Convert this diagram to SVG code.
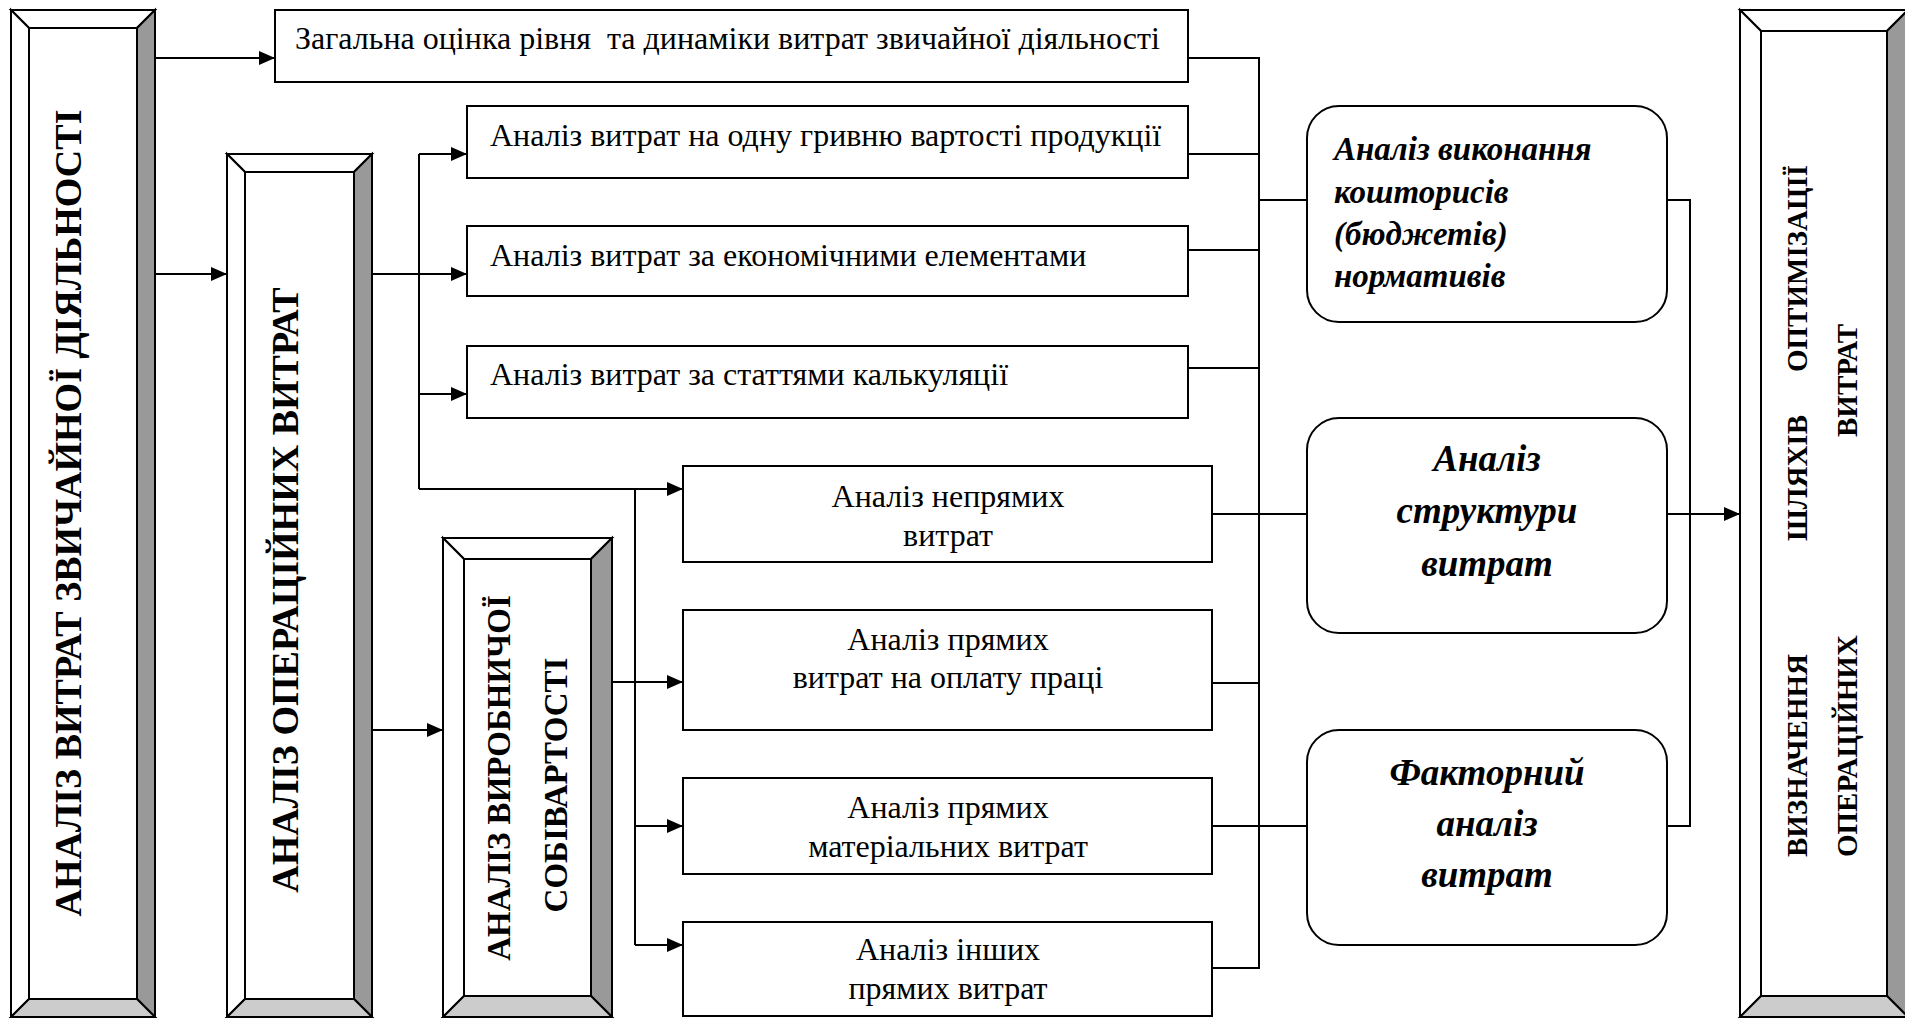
<svg xmlns="http://www.w3.org/2000/svg" width="1905" height="1018" viewBox="0 0 1905 1018">
  <style>
    .box { fill: #ffffff; stroke: #000; stroke-width: 2; }
    .bev-light { fill: #ffffff; stroke: #000; stroke-width: 2; }
    .bev-dark { fill: #999999; stroke: #000; stroke-width: 2; }
    .bev-mid { fill: #cccccc; stroke: #000; stroke-width: 2; }
    .conn { fill: none; stroke: #000; stroke-width: 2; }
    .arrow { marker-end: url(#arr); }
    .t { font-family: 'Liberation Serif', serif; font-size: 32px; fill: #000; }
    .tc { text-anchor: middle; }
    .vb { font-family: 'Liberation Serif', serif; font-weight: bold; fill: #000; }
    .bi { font-family: 'Liberation Serif', serif; font-weight: bold; font-style: italic; font-size: 37px; fill: #000; }
    .bi-s { font-size: 33px; }
  </style>
  <defs>
    <marker id="arr" markerUnits="userSpaceOnUse" markerWidth="16" markerHeight="14" viewBox="0 0 16 14" refX="16" refY="7" orient="auto">
      <path d="M0,0 L16,7 L0,14 z" fill="#000"/>
    </marker>
  </defs>

  <rect x="0" y="0" width="1905" height="1018" fill="#ffffff"/>

  <!-- Bevelled frame: main analysis column -->
  <g id="node-main">
    <rect class="box" x="11" y="10" width="144" height="1007"/>
    <polygon class="bev-light" points="11,10 155,10 137,28 29,28"/>
    <polygon class="bev-light" points="11,10 29,28 29,999 11,1017"/>
    <polygon class="bev-dark" points="155,10 155,1017 137,999 137,28"/>
    <polygon class="bev-mid" points="11,1017 155,1017 137,999 29,999"/>
    <rect class="box" x="29" y="28" width="108" height="971"/>
    <text class="vb tc" font-size="38" transform="translate(81,513) rotate(-90)">АНАЛІЗ ВИТРАТ ЗВИЧАЙНОЇ ДІЯЛЬНОСТІ</text>
  </g>

  <!-- Bevelled frame: operating costs -->
  <g id="node-operating">
    <rect class="box" x="227" y="154" width="145" height="863"/>
    <polygon class="bev-light" points="227,154 372,154 354,172 245,172"/>
    <polygon class="bev-light" points="227,154 245,172 245,999 227,1017"/>
    <polygon class="bev-dark" points="372,154 372,1017 354,999 354,172"/>
    <polygon class="bev-mid" points="227,1017 372,1017 354,999 245,999"/>
    <rect class="box" x="245" y="172" width="109" height="827"/>
    <text class="vb tc" font-size="38" transform="translate(298,590) rotate(-90)">АНАЛІЗ ОПЕРАЦІЙНИХ ВИТРАТ</text>
  </g>

  <!-- Bevelled frame: production cost -->
  <g id="node-cost">
    <rect class="box" x="443" y="538" width="169" height="479"/>
    <polygon class="bev-light" points="443,538 612,538 591,559 464,559"/>
    <polygon class="bev-light" points="443,538 464,559 464,996 443,1017"/>
    <polygon class="bev-dark" points="612,538 612,1017 591,996 591,559"/>
    <polygon class="bev-mid" points="443,1017 612,1017 591,996 464,996"/>
    <rect class="box" x="464" y="559" width="127" height="437"/>
    <text class="vb tc" font-size="33" transform="translate(510,778) rotate(-90)">АНАЛІЗ ВИРОБНИЧОЇ</text>
    <text class="vb tc" font-size="33" transform="translate(567,785) rotate(-90)">СОБІВАРТОСТІ</text>
  </g>

  <!-- Bevelled frame: optimisation result -->
  <g id="node-optimisation">
    <rect class="box" x="1740" y="10" width="168" height="1007"/>
    <polygon class="bev-light" points="1740,10 1908,10 1887,31 1761,31"/>
    <polygon class="bev-light" points="1740,10 1761,31 1761,996 1740,1017"/>
    <polygon class="bev-dark" points="1908,10 1908,1017 1887,996 1887,31"/>
    <polygon class="bev-mid" points="1740,1017 1908,1017 1887,996 1761,996"/>
    <rect class="box" x="1761" y="31" width="126" height="965"/>
    <text class="vb" font-size="29" transform="translate(1807,857) rotate(-90)">ВИЗНАЧЕННЯ</text>
    <text class="vb" font-size="29" transform="translate(1807,541) rotate(-90)">ШЛЯХІВ</text>
    <text class="vb" font-size="29" transform="translate(1807,372) rotate(-90)">ОПТИМІЗАЦІЇ</text>
    <text class="vb" font-size="29" transform="translate(1857,857) rotate(-90)">ОПЕРАЦІЙНИХ</text>
    <text class="vb" font-size="29" transform="translate(1857,437) rotate(-90)">ВИТРАТ</text>
  </g>

  <!-- Plain analysis boxes -->
  <g id="node-general">
    <rect class="box" x="275" y="10" width="913" height="72"/>
    <text class="t" x="295" y="49" xml:space="preserve">Загальна оцінка рівня  та динаміки витрат звичайної діяльності</text>
  </g>
  <g id="node-per-hryvnia">
    <rect class="box" x="467" y="106" width="721" height="72"/>
    <text class="t" x="490" y="146">Аналіз витрат на одну гривню вартості продукції</text>
  </g>
  <g id="node-economic">
    <rect class="box" x="467" y="226" width="721" height="70"/>
    <text class="t" x="490" y="266">Аналіз витрат за економічними елементами</text>
  </g>
  <g id="node-costing">
    <rect class="box" x="467" y="346" width="721" height="72"/>
    <text class="t" x="490" y="385">Аналіз витрат за статтями калькуляції</text>
  </g>
  <g id="node-indirect">
    <rect class="box" x="683" y="466" width="529" height="96"/>
    <text class="t tc" x="948" y="507">Аналіз непрямих</text>
    <text class="t tc" x="948" y="546">витрат</text>
  </g>
  <g id="node-labour">
    <rect class="box" x="683" y="610" width="529" height="120"/>
    <text class="t tc" x="948" y="650">Аналіз прямих</text>
    <text class="t tc" x="948" y="688">витрат на оплату праці</text>
  </g>
  <g id="node-material">
    <rect class="box" x="683" y="778" width="529" height="96"/>
    <text class="t tc" x="948" y="818">Аналіз прямих</text>
    <text class="t tc" x="948" y="857">матеріальних витрат</text>
  </g>
  <g id="node-other">
    <rect class="box" x="683" y="922" width="529" height="94"/>
    <text class="t tc" x="948" y="960">Аналіз інших</text>
    <text class="t tc" x="948" y="999">прямих витрат</text>
  </g>

  <!-- Rounded summary boxes -->
  <g id="node-budgets">
    <rect class="box" x="1307" y="106" width="360" height="216" rx="32" ry="32"/>
    <text class="bi bi-s" x="1334" y="160">Аналіз виконання</text>
    <text class="bi bi-s" x="1334" y="203">кошторисів</text>
    <text class="bi bi-s" x="1334" y="245">(бюджетів)</text>
    <text class="bi bi-s" x="1334" y="287">нормативів</text>
  </g>
  <g id="node-structure">
    <rect class="box" x="1307" y="418" width="360" height="215" rx="32" ry="32"/>
    <text class="bi tc" x="1487" y="471">Аналіз</text>
    <text class="bi tc" x="1487" y="523">структури</text>
    <text class="bi tc" x="1487" y="576">витрат</text>
  </g>
  <g id="node-factor">
    <rect class="box" x="1307" y="730" width="360" height="215" rx="32" ry="32"/>
    <text class="bi tc" x="1487" y="785">Факторний</text>
    <text class="bi tc" x="1487" y="836">аналіз</text>
    <text class="bi tc" x="1487" y="887">витрат</text>
  </g>

  <!-- Connectors -->
  <g id="connectors">
    <path class="conn arrow" d="M155,58 H275"/>
    <path class="conn arrow" d="M155,274 H227"/>
    <path class="conn arrow" d="M372,274 H467"/>
    <path class="conn" d="M419,154 V489"/>
    <path class="conn arrow" d="M419,154 H467"/>
    <path class="conn arrow" d="M419,394 H467"/>
    <path class="conn arrow" d="M419,489 H683"/>
    <path class="conn arrow" d="M372,730 H443"/>
    <path class="conn" d="M635,489 V945"/>
    <path class="conn arrow" d="M612,682 H683"/>
    <path class="conn arrow" d="M635,826 H683"/>
    <path class="conn arrow" d="M635,945 H683"/>

    <path class="conn" d="M1188,58 H1259 V968 H1212"/>
    <path class="conn" d="M1188,154 H1259"/>
    <path class="conn" d="M1188,250 H1259"/>
    <path class="conn" d="M1188,368 H1259"/>
    <path class="conn" d="M1259,200 H1307"/>
    <path class="conn" d="M1212,514 H1307"/>
    <path class="conn" d="M1212,683 H1259"/>
    <path class="conn" d="M1212,826 H1307"/>

    <path class="conn" d="M1667,200 H1690 V826 H1667"/>
    <path class="conn arrow" d="M1667,514 H1740"/>
  </g>
</svg>
